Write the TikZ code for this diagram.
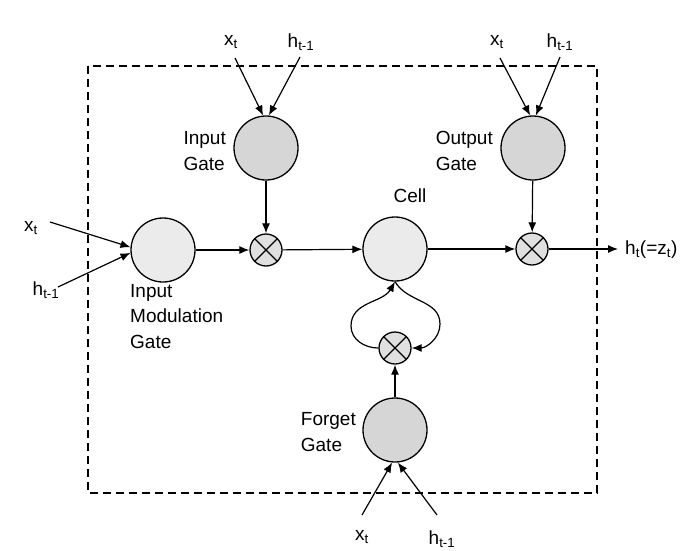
\documentclass[tikz,border=0pt]{standalone}
\usepackage{fontspec}
\setmainfont{Liberation Sans}
\usepackage{tikz}
\usetikzlibrary{arrows.meta}
\tikzset{ gate_var/.style = {circle, draw, line width=1.3pt, fill=black!16, minimum size=64pt, inner sep=0pt} }
\tikzset{ cell_var/.style = {circle, draw, line width=1.3pt, fill=black!8, minimum size=64pt, inner sep=0pt} }
\tikzset{ mult_var/.style = {circle, draw, line width=1.3pt, fill=black!12, minimum size=32pt, inner sep=0pt} }
\tikzset{ lbl/.style = {inner sep=0pt, align=left, font=\fontsize{19}{25.5}\selectfont} }
\tikzset{ conn/.style = {line width=1.2pt, -{Latex[length=10pt,width=8pt]}} }
\newcommand{\crossmark}[1]{\draw[line width=1.1pt] (#1.north west) -- (#1.south east) (#1.north east) -- (#1.south west);}

\begin{document}
\begin{tikzpicture}[x=1pt,y=-1pt]
\useasboundingbox (0,0) rectangle (687,550);
\draw[line width=1.2pt, dash pattern=on 8pt off 5pt] (88,66) rectangle (597,493);
\node[gate_var] (ig) at (266,148) {};
\node[gate_var] (og) at (533,148) {};
\node[gate_var] (fg) at (395,430) {};
\node[cell_var] (img) at (163,250) {};
\node[cell_var] (cell) at (395,249) {};
\node[mult_var] (m1) at (266,250) {};
\node[mult_var] (m2) at (532,249) {};
\node[mult_var] (m3) at (395,348) {};
\crossmark{m1}
\crossmark{m2}
\crossmark{m3}
\node[lbl, anchor=east] (iglbl) at (226,151) {Input\\Gate};
\node[lbl, anchor=east] (oglbl) at (493,151) {Output\\Gate};
\node[lbl, anchor=east] (fglbl) at (356,432) {Forget\\Gate};
\node[lbl] (celllbl) at (410,196) {Cell};
\node[lbl, anchor=north west] (imglbl) at (130,284) {Input\\Modulation\\Gate};
\node[lbl] (x1) at (231,42) {x\textsubscript{t}};
\node[lbl] (h1) at (301,42) {h\textsubscript{t-1}};
\node[lbl] (x2) at (497,42) {x\textsubscript{t}};
\node[lbl] (h2) at (560,42) {h\textsubscript{t-1}};
\node[lbl] (x3) at (31,228) {x\textsubscript{t}};
\node[lbl] (h3) at (46,290) {h\textsubscript{t-1}};
\node[lbl] (x4) at (362,537) {x\textsubscript{t}};
\node[lbl] (h4) at (442,539) {h\textsubscript{t-1}};
\node[lbl, anchor=west] (out) at (625,250) {h\textsubscript{t}(=z\textsubscript{t})};
\coordinate (x1s) at (235,58);
\coordinate (h1s) at (300,57);
\coordinate (x2s) at (500,58);
\coordinate (h2s) at (560,57);
\coordinate (x3s) at (50,222);
\coordinate (h3s) at (58,287);
\coordinate (x4s) at (362,515);
\coordinate (h4s) at (437,515);
\coordinate (oute) at (618,249);
\coordinate (loopl) at (351,326);
\coordinate (loopr) at (440,324);
\draw[conn] (x1s) -- (ig.95);
\draw[conn] (h1s) -- (ig.85);
\draw[conn] (x2s) -- (og.95);
\draw[conn] (h2s) -- (og.85);
\draw[conn] (x3s) -- (img.175);
\draw[conn] (h3s) -- (img.185);
\draw[conn] (x4s) -- (fg.265);
\draw[conn] (h4s) -- (fg.275);
\draw[conn] (img) -- (m1);
\draw[conn] (ig) -- (m1);
\draw[conn] (m1) -- (cell);
\draw[conn] (cell) -- (m2);
\draw[conn] (og) -- (m2);
\draw[conn] (m2) -- (oute);
\draw[conn] (fg) -- (m3);
\draw[conn] (m3.west) to[out=180,in=-90] (loopl) to[out=90,in=-120] (cell.south);
\draw[conn] (cell.south) to[out=-60,in=90] (loopr) to[out=-90,in=0] (m3.east);
\end{tikzpicture}
\end{document}
